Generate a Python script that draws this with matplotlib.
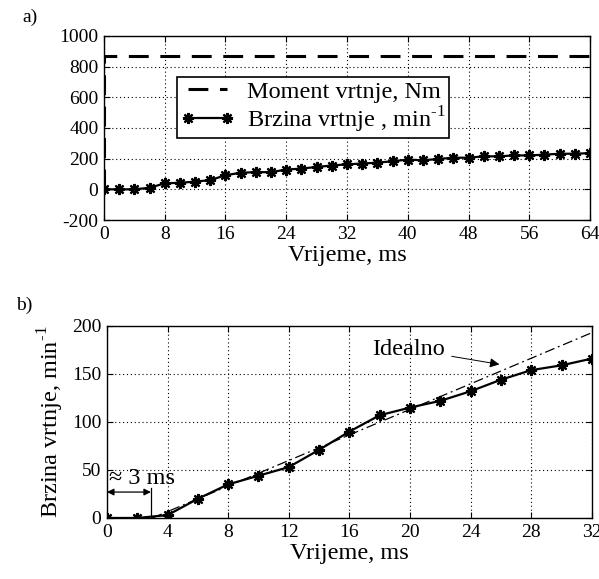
import matplotlib
matplotlib.use("Agg")
import matplotlib.pyplot as plt
import numpy as np

plt.rcParams['font.family'] = ['Liberation Serif', 'DejaVu Serif']
plt.rcParams['mathtext.fontset'] = 'custom'
plt.rcParams['mathtext.rm'] = 'Liberation Serif'
plt.rcParams['axes.unicode_minus'] = False

# a) torque step and speed, sampled every 2 ms
t_moment = [0, 0, 64]
moment = [0, 870, 870]
t_a = np.arange(0, 65, 2)
speed_a = [0, 0, 0, 10, 39, 43, 50, 60, 92, 108, 112, 112, 129, 135, 146, 155,
           163, 168, 174, 183, 194, 189, 198, 206, 206, 215, 215, 221, 221,
           226, 232, 232, 236]

# b) first 32 ms of the speed and the ideal ramp
t_b = np.arange(0, 33, 2)
speed_b = [0, 0, 3, 20, 35, 44, 53, 71, 90, 107, 115, 122, 132, 144, 154, 159, 166]
t_ideal = [3, 32]
ideal = [0, 193]

star = (8, 2, 0)
fs = 17.5
tfs = 14
unit = r'min$^{\mathrm{\text{-}1}}$'

fig = plt.figure(figsize=(5.99, 5.79), dpi=100)

ax1 = fig.add_axes([0.1736, 0.620, 0.985 - 0.1736, 0.938 - 0.620])
ax1.plot(t_moment, moment, color='k', lw=2.2, ls=(0, (6.5, 3.8)),
         label='Moment vrtnje, Nm')
ax1.plot(t_a, speed_a, color='k', lw=1.6, marker=star, ms=8, mew=1.6,
         label='Brzina vrtnje , ' + unit)
ax1.set_xlim(0, 64)
ax1.set_ylim(-200, 1000)
ax1.set_xticks(range(0, 65, 8))
ax1.set_yticks(range(-200, 1001, 200))
ax1.set_xlabel('Vrijeme, ms', fontsize=fs, labelpad=2)
leg = ax1.legend(loc='upper left', bbox_to_anchor=(0.151, 0.775), fontsize=fs,
                 numpoints=2, fancybox=False, framealpha=1, edgecolor='k',
                 handlelength=2.2, borderpad=0.15, labelspacing=0.05,
                 handletextpad=0.5, borderaxespad=0)
leg.get_frame().set_linewidth(1.2)

ax2 = fig.add_axes([0.1786, 0.1054, 0.988 - 0.1786, 0.437 - 0.1054])
ax2.plot(t_ideal, ideal, color='k', lw=0.9, ls=(0, (8, 3, 1.5, 3)))
ax2.plot(t_b, speed_b, color='k', lw=1.6, marker=star, ms=8, mew=1.6)
ax2.set_xlim(0, 32)
ax2.set_ylim(0, 200)
ax2.set_xticks(range(0, 33, 4))
ax2.set_yticks(range(0, 201, 50))
ax2.set_xlabel('Vrijeme, ms', fontsize=fs, labelpad=2)
ax2.set_ylabel('Brzina vrtnje, ' + unit, fontsize=fs, labelpad=4)

ax2.annotate('Idealno', xy=(25.9, 160), xytext=(22.3, 176),
             fontsize=fs, ha='right', va='center',
             arrowprops=dict(arrowstyle='-|>', color='k', lw=0.7,
                             mutation_scale=14, shrinkA=3, shrinkB=0))
ax2.annotate('', xy=(0, 27), xytext=(2.9, 27),
             arrowprops=dict(arrowstyle='<|-|>', color='k', lw=0.9,
                             mutation_scale=10, shrinkA=0, shrinkB=0))
ax2.plot([2.9, 2.9], [0, 31], color='k', lw=0.9)
ax2.text(2.3, 41, '≈ 3 ms', fontsize=fs, ha='center', va='center')

for ax in (ax1, ax2):
    ax.grid(True, color='k', ls=(0, (1, 2.5)), lw=0.8)
    ax.tick_params(direction='in', length=4, labelsize=tfs, top=True,
                   right=True, pad=4)
    for s in ax.spines.values():
        s.set_linewidth(1.0)

fig.text(22 / 599, 1 - 17 / 579, 'a)', fontsize=tfs, ha='left', va='center')
fig.text(16 / 599, 1 - 305 / 579, 'b)', fontsize=tfs, ha='left', va='center')

fig.savefig('out.png', dpi=100)
